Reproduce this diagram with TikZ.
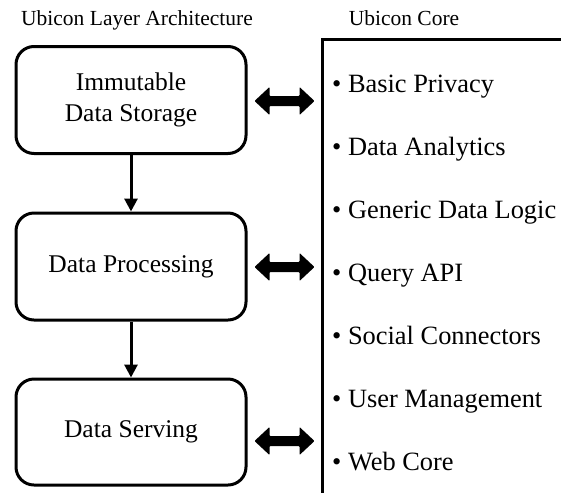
\documentclass[tikz,border=0pt]{standalone}
\usepackage{fontspec}
\setmainfont{Liberation Serif}
\usetikzlibrary{arrows.meta,calc}
\begin{document}
\begin{tikzpicture}[x=1pt,y=-1pt,
 layer/.style={draw, line width=3pt, rounded corners=18pt, minimum width=230pt, align=center, font=\fontsize{25.5}{31}\selectfont, inner sep=0pt},
 title/.style={font=\fontsize{21.5}{26}\selectfont, anchor=base, inner sep=0pt},
 item/.style={font=\fontsize{26.4}{31}\selectfont, anchor=base west, inner sep=0pt},
 flow/.style={line width=3pt, -{Triangle[length=13pt,width=13pt]}},
 pics/fatarrow/.style={code={
   \fill[black, rounded corners=0.8pt] (0,0) -- (15,-14) -- (15,-5) -- (45,-5) -- (45,-14) -- (60,0)
     -- (45,14) -- (45,5) -- (15,5) -- (15,14) -- cycle;}}]
\useasboundingbox (0,0) rectangle (561,493);

\node[title] (t1) at (137,25) {Ubicon Layer Architecture};
\node[title] (t2) at (404,25) {Ubicon Core};

\node[layer, minimum height=107pt] (s1) at (131,100) {Immutable\\Data Storage};
\node[layer, minimum height=107pt] (s2) at (131,266.5) {Data Processing};
\node[layer, minimum height=106pt] (s3) at (131,432) {Data Serving};

\draw[flow] (s1) -- (s2);
\draw[flow] (s2) -- (s3);

\coordinate (coreR) at (561,39);
\coordinate (coreTL) at (322,39);
\coordinate (coreB) at (322,493);
\draw[line width=3pt] (coreR) -- (coreTL) -- (coreB);

\pic at ($(s1.east)+(7,1)$) {fatarrow};
\pic at ($(s2.east)+(7,0.5)$) {fatarrow};
\pic at ($(s3.east)+(7,9)$) {fatarrow};

\node[item] (i1) at (332,92) {• Basic Privacy};
\node[item] (i2) at (332,155) {• Data Analytics};
\node[item] (i3) at (332,218) {• Generic Data Logic};
\node[item] (i4) at (332,281) {• Query API};
\node[item] (i5) at (332,344) {• Social Connectors};
\node[item] (i6) at (332,407) {• User Management};
\node[item] (i7) at (332,470) {• Web Core};
\end{tikzpicture}
\end{document}
